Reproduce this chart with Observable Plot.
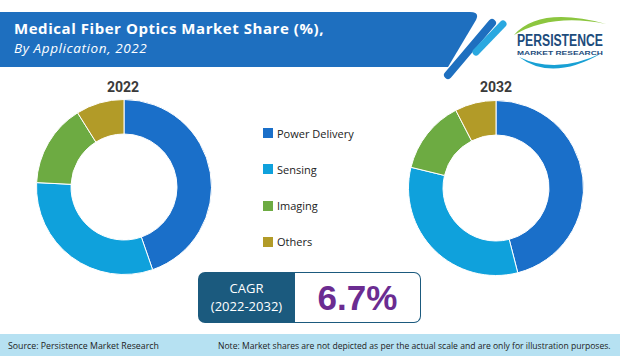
<!DOCTYPE html>
<html>
<head>
<meta charset="utf-8">
<script src="https://cdn.jsdelivr.net/npm/d3@7"></script>
<script src="https://cdn.jsdelivr.net/npm/@observablehq/plot@0.6"></script>
<style>
  html, body { margin: 0; padding: 0; background: #fff; }
  #root { position: relative; width: 620px; height: 356px; overflow: hidden; background: #fff; font-family: "Open Sans", sans-serif; }
  .abs { position: absolute; }
  .year { font-family: Roboto, sans-serif; font-weight: 700; font-size: 14px; color: #3a3a3a; width: 80px; text-align: center; }
  .leg { font-family: "Open Sans", sans-serif; font-size: 11px; color: #222; display: flex; align-items: center; height: 14px; }
  .leg span.sw { display: inline-block; width: 10px; height: 10px; margin-right: 4px; }
</style>
</head>
<body>
<div id="root">
  <svg class="abs" style="left:0;top:0" width="620" height="80">
    <path d="M0,12 H470 Q480,12 476,20 L448,67 H0 Z" fill="#1e6fbf"/>
    <line x1="448" y1="75" x2="492" y2="23" stroke="#1e6fbf" stroke-width="8" stroke-linecap="round"/>
    <line x1="476" y1="52" x2="503" y2="24" stroke="#2aa8e0" stroke-width="7" stroke-linecap="round"/>
    <path d="M514,35 Q540,6 606,24 Q552,13 514,35 Z" fill="#8cc63f"/>
    <path d="M519,57 Q552,82 602,53 Q556,75 519,57 Z" fill="#18a0d4"/>
    <text id="logo1" font-family="'Liberation Sans', sans-serif" font-weight="700" font-size="17" fill="#1d4c7c">PERSISTENCE</text>
    <text id="logo2" font-family="'Liberation Sans', sans-serif" font-weight="700" font-size="6" fill="#1d4c7c">MARKET RESEARCH</text>
  </svg>
  <div class="abs" style="left:14px;top:20.2px;line-height:16px;color:#fff;font-family:'Open Sans',sans-serif;font-weight:700;font-size:15px;letter-spacing:0.55px;white-space:nowrap;">Medical Fiber Optics Market Share (%),</div>
  <div class="abs" style="left:14px;top:40.8px;line-height:15px;color:#fff;font-family:'Open Sans',sans-serif;font-style:italic;font-size:13.5px;letter-spacing:0.6px;white-space:nowrap;">By Application, 2022</div>

  <div id="y0" class="abs year" style="left:83px;top:79px;"></div>
  <div id="y1" class="abs year" style="left:456px;top:79px;"></div>
  <div id="d0" class="abs" style="left:33.5px;top:97px;"></div>
  <div id="d1" class="abs" style="left:406px;top:97.5px;"></div>
  <div id="legend" class="abs" style="left:263px;top:126px;"></div>

  <div class="abs" style="left:198px;top:272px;width:97px;height:51px;background:#1b5a7e;border-radius:7px 0 0 7px;color:#fff;font-family:'Open Sans',sans-serif;font-size:13px;text-align:center;line-height:18px;padding-top:7px;box-sizing:border-box;">
    <div id="cagrLabel"></div><div id="cagrPeriod"></div>
  </div>
  <div class="abs" style="left:295px;top:272px;width:126px;height:51px;border:1px solid #1b5a7e;border-left:none;border-radius:0 7px 7px 0;box-sizing:border-box;display:flex;align-items:center;justify-content:center;">
    <span id="cagrValue" style="font-family:'Liberation Sans',Arial,sans-serif;font-weight:700;font-size:35px;color:#6b2c91;"></span>
  </div>

  <svg class="abs" style="left:0;top:334px" width="620" height="22">
    <rect x="0" y="0" width="620" height="22" fill="#b6e1f2"/>
    <text id="src" font-family="'Open Sans', sans-serif" font-size="9.5" fill="#222"></text>
    <text id="note" font-family="'Open Sans', sans-serif" font-size="9.5" fill="#222"></text>
  </svg>
</div>
<script>
// ---- data ----
const applications = ["Power Delivery", "Sensing", "Imaging", "Others"];
const appColors = ["#1a6fc9", "#0fa1dc", "#6dab42", "#b29b28"];
const years = ["2022", "2032"];
const share2022 = [44.7, 31.1, 15.3, 8.9];
const share2032 = [46.0, 32.8, 13.6, 7.6];
const cagrLabel = "CAGR";
const cagrPeriod = "(2022-2032)";
const cagrValue = "6.7%";
const sourceText = "Source: Persistence Market Research";
const noteText = "Note: Market shares are not depicted as per the actual scale and are only for illustration purposes.";
const logoName = "PERSISTENCE";
const logoSub = "MARKET RESEARCH";

function donut(values, outer, inner) {
  const data = applications.map((a, i) => ({app: a, share: values[i]}));
  const size = 180;
  return Plot.plot({
    width: size, height: size, margin: 0,
    style: {background: "transparent"},
    x: {domain: [0, d3.sum(values)], range: [0, 2 * Math.PI], axis: null},
    color: {domain: applications, range: appColors},
    marks: [
      Plot.barX(data, {
        x: "share", fill: "app",
        render: (index, scales, v, dim) => {
          const g = d3.create("svg:g")
            .attr("transform", `translate(${dim.width / 2},${dim.height / 2})`);
          const arc = d3.arc().innerRadius(inner).outerRadius(outer);
          for (const i of index) {
            g.append("path")
              .attr("d", arc({startAngle: v.x1[i], endAngle: v.x2[i]}))
              .attr("fill", v.fill[i])
              .attr("stroke", "#fff")
              .attr("stroke-width", 1);
          }
          return g.node();
        }
      })
    ]
  });
}

document.getElementById("d0").appendChild(donut(share2022, 87.5, 53));
document.getElementById("d1").appendChild(donut(share2032, 87.5, 53));
document.getElementById("y0").textContent = years[0];
document.getElementById("y1").textContent = years[1];

const leg = document.getElementById("legend");
applications.forEach((a, i) => {
  const row = document.createElement("div");
  row.className = "leg";
  row.style.marginBottom = i < applications.length - 1 ? "22.3px" : "0";
  const sw = document.createElement("span");
  sw.className = "sw";
  sw.style.background = appColors[i];
  row.appendChild(sw);
  row.appendChild(document.createTextNode(a));
  leg.appendChild(row);
});

document.getElementById("cagrLabel").textContent = cagrLabel;
document.getElementById("cagrPeriod").textContent = cagrPeriod;
document.getElementById("cagrValue").textContent = cagrValue;

function fitText(id, text, x, y, width) {
  const el = document.getElementById(id);
  el.textContent = text;
  const w = el.getComputedTextLength();
  el.setAttribute("transform", `translate(${x},${y}) scale(${width / w},1)`);
}
fitText("src", sourceText, 8, 14.5, 151);
fitText("note", noteText, 218, 14.5, 393);
fitText("logo1", logoName, 517, 46, 86);
fitText("logo2", logoSub, 517, 55, 86);
</script>
</body>
</html>
